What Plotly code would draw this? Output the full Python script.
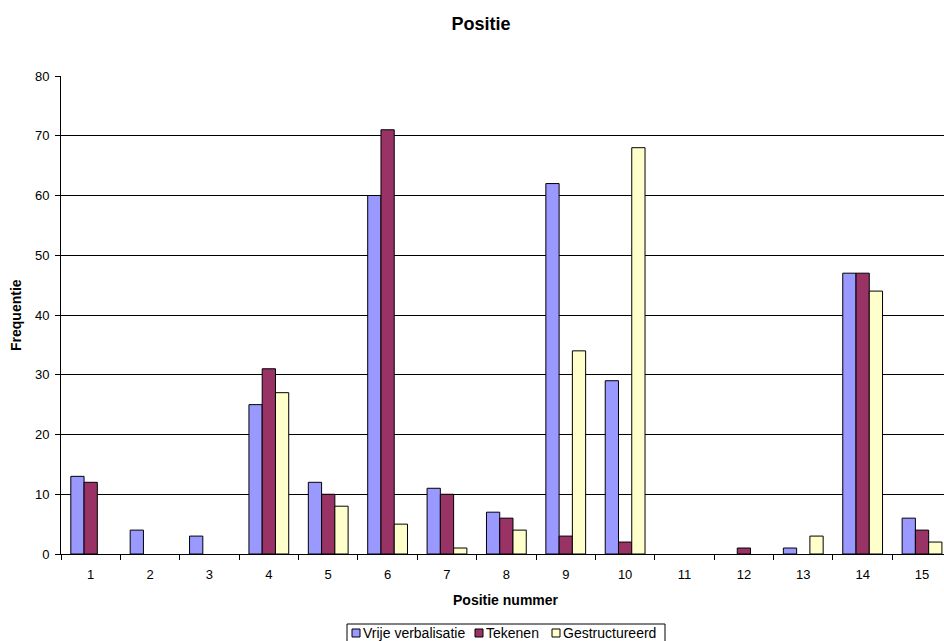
import plotly.graph_objects as go

# Frequency per position number for the three conditions
posities = [str(i) for i in range(1, 16)]
vrije_verbalisatie = [13, 4, 3, 25, 12, 60, 11, 7, 62, 29, 0, 0, 1, 47, 6]
tekenen = [12, 0, 0, 31, 10, 71, 10, 6, 3, 2, 0, 1, 0, 47, 4]
gestructureerd = [0, 0, 0, 27, 8, 5, 1, 4, 34, 68, 0, 0, 3, 44, 2]

series = [
    ("Vrije verbalisatie", vrije_verbalisatie, "#9999FF"),
    ("Tekenen", tekenen, "#993366"),
    ("Gestructureerd", gestructureerd, "#FFFFCC"),
]

FONT = "Liberation Sans, Arial, sans-serif"
W, H = 944, 641
L, R, T, B = 61, 944, 76, 554  # plot area in pixels


def px_x(px):
    return (px - L) / (R - L)


def px_y(py):
    return (B - py) / (B - T)


fig = go.Figure()
for name, vals, color in series:
    # empty cells are left out rather than drawn as flat bars
    fig.add_trace(go.Bar(
        x=posities, y=[v if v else None for v in vals], name=name,
        marker=dict(color=color, line=dict(color="black", width=1)),
        showlegend=False,
    ))

fig.update_layout(
    width=W, height=H,
    paper_bgcolor="white", plot_bgcolor="white",
    font=dict(family=FONT, size=13, color="black"),
    margin=dict(l=L, r=W - R, t=T, b=H - B),
    barmode="group", bargap=0.33, bargroupgap=0,
    title=dict(text="<b>Positie</b>", x=481 / W, xanchor="center",
               y=1 - 24 / H, yanchor="middle",
               font=dict(size=18, family=FONT)),
)

fig.update_xaxes(
    type="category", range=[-0.5, 14.37],
    showline=True, linecolor="black", linewidth=1,
    ticks="outside", ticklen=5, tickcolor="black", tickson="boundaries",
    ticklabelstandoff=8,
    showgrid=False, tickfont=dict(size=13),
)
fig.update_yaxes(
    range=[0, 80], dtick=10,
    showline=True, linecolor="black", linewidth=1,
    ticks="outside", ticklen=5, tickcolor="black",
    ticklabelstandoff=3,
    showgrid=True, gridcolor="black", gridwidth=1,
    zeroline=False, tickfont=dict(size=13),
)

# Axis titles
fig.add_annotation(text="<b>Positie nummer</b>", xref="paper", yref="paper",
                   x=px_x(506), y=px_y(600), xanchor="center", yanchor="middle",
                   showarrow=False, font=dict(size=14, family=FONT))
fig.add_annotation(text="<b>Frequentie</b>", xref="paper", yref="paper",
                   x=px_x(16), y=px_y(315), xanchor="center", yanchor="middle",
                   textangle=-90, showarrow=False, font=dict(size=14, family=FONT))

# Compact boxed legend below the axis title
fig.add_shape(type="rect", xref="paper", yref="paper",
              x0=px_x(347), x1=px_x(665), y0=px_y(624), y1=px_y(648),
              line=dict(color="black", width=1), fillcolor="white", layer="above")
legend_x = [352, 475, 552]
for (name, _, color), sx in zip(series, legend_x):
    fig.add_shape(type="rect", xref="paper", yref="paper",
                  x0=px_x(sx), x1=px_x(sx + 8), y0=px_y(629), y1=px_y(637),
                  line=dict(color="black", width=1), fillcolor=color, layer="above")
    fig.add_annotation(text=name, xref="paper", yref="paper",
                       x=px_x(sx + 9), y=px_y(633), xanchor="left", yanchor="middle",
                       showarrow=False, font=dict(size=14, family=FONT))

fig.write_html("out.html")
